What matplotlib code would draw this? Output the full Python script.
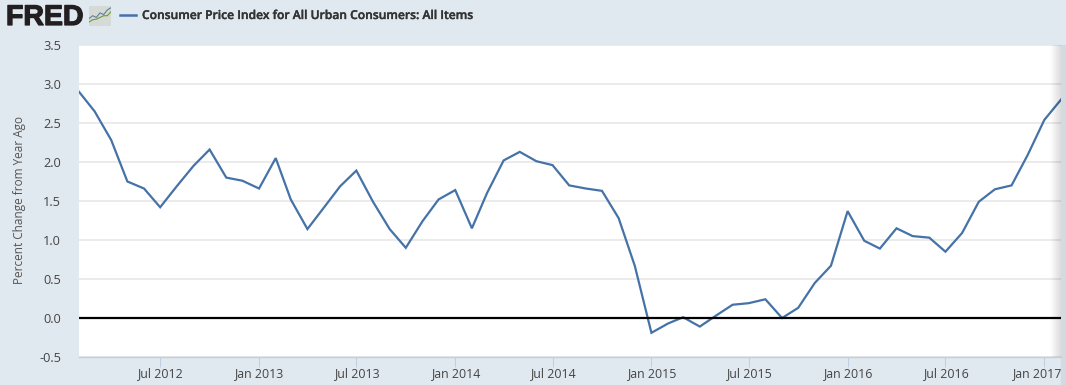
import numpy as np
import pandas as pd
import matplotlib
matplotlib.use('Agg')
import matplotlib.pyplot as plt
import matplotlib.dates as mdates
import matplotlib.patheffects as pe
from matplotlib.transforms import ScaledTranslation

plt.rcParams['font.family'] = ['Open Sans', 'DejaVu Sans']

months = pd.date_range('2012-02-01', '2017-02-01', freq='MS')
cpi_yoy = [2.90, 2.65, 2.28, 1.75, 1.66, 1.42, 1.69, 1.95, 2.16, 1.80, 1.76,
           1.66, 2.05, 1.52, 1.14, 1.41, 1.69, 1.89, 1.49, 1.14, 0.90, 1.24, 1.52,
           1.64, 1.15, 1.60, 2.02, 2.13, 2.01, 1.96, 1.70, 1.66, 1.63, 1.28, 0.67,
           -0.19, -0.07, 0.01, -0.11, 0.03, 0.17, 0.19, 0.24, 0.00, 0.13, 0.45, 0.67,
           1.37, 0.99, 0.89, 1.15, 1.05, 1.03, 0.85, 1.09, 1.49, 1.65, 1.70, 2.09,
           2.54, 2.80]
y_ticks = [-0.5, 0.0, 0.5, 1.0, 1.5, 2.0, 2.5, 3.0, 3.5]
x_ticks = ['2012-07-01', '2013-01-01', '2013-07-01', '2014-01-01', '2014-07-01',
           '2015-01-01', '2015-07-01', '2016-01-01', '2016-07-01', '2017-01-01']
title = 'Consumer Price Index for All Urban Consumers: All Items'

W, H = 1066, 385
bg = '#e1e9f0'
line_col = '#4572a7'
text_col = '#444444'

fig = plt.figure(figsize=(W / 100, H / 100), dpi=100, facecolor=bg)
fig.add_artist(plt.Rectangle((1061 / W, 0), 5 / W, 1 - 45 / H, transform=fig.transFigure, color='#d3dbe2', zorder=-1))
ax = fig.add_axes([79 / W, 1 - 357 / H, (1061 - 79) / W, (357 - 45) / H])

ax.plot(months, cpi_yoy, color=line_col, lw=1.6, zorder=3, solid_joinstyle='miter')
ax.axhline(0, color='black', lw=1.6, zorder=4)

ax.set_ylim(-0.5, 3.5)
ax.set_xlim(months[0], months[-1])
ax.set_yticks(y_ticks)
ax.set_yticklabels(['%.1f' % v for v in y_ticks])
ax.set_xticks(pd.to_datetime(x_ticks))
ax.xaxis.set_major_formatter(mdates.DateFormatter('%b %Y'))
ax.grid(axis='y', color='#e6e6e6', lw=1.1, zorder=0)
ax.set_axisbelow(True)

for s in ['top', 'left', 'right']:
    ax.spines[s].set_visible(False)
ax.spines['bottom'].set_color('#c0d0e0')
ax.spines['bottom'].set_linewidth(1.0)
ax.tick_params(axis='y', length=0, pad=13, labelsize=9.2, labelcolor=text_col)
ax.tick_params(axis='x', length=7, width=0.8, color='#c0d0e0', pad=0, labelsize=8.9, labelcolor=text_col)

# the last label is pushed left so it stays inside the chart
last = ax.get_xticklabels()[-1]
last.set_ha('right')
last.set_transform(last.get_transform() + ScaledTranslation(17 / 100, 0, fig.dpi_scale_trans))

fig.text(20 / W, 1 - 200 / H, 'Percent Change from Year Ago', fontsize=8.5, color='#555555',
         rotation=90, va='center', ha='center')

# fade on the right edge of the plot
shade = fig.add_axes([1050 / W, 1 - 357 / H, 11 / W, 312 / H])
shade.imshow(np.zeros((1, 32, 3)), aspect='auto', alpha=np.linspace(0, 0.14, 32).reshape(1, -1))
shade.axis('off')

# header
fig.text(6 / W, 1 - 18 / H, 'FRED', fontsize=20.5, fontweight='bold', family=['Liberation Sans', 'DejaVu Sans'],
         color='#231f20', va='center', ha='left',
         path_effects=[pe.withStroke(linewidth=0.9, foreground='#231f20')])
icon = fig.add_axes([89 / W, 1 - 26 / H, 22 / W, 20 / H], facecolor='#d5dad7')
icon.plot([0, 1, 2, 3, 4, 5, 6], [2.6, 3.6, 3, 4.6, 4, 5.6, 6.4], color='#5f7f98', lw=0.8)
icon.plot([0, 1, 2, 3, 4, 5, 6], [1.4, 2.2, 2.4, 3, 3.6, 3.6, 5], color='#6f9a35', lw=0.8)
icon.set_xlim(0, 6)
icon.set_ylim(0, 7)
icon.set_xticks([])
icon.set_yticks([])
for s in icon.spines.values():
    s.set_visible(False)

fig.add_artist(plt.Line2D([120 / W, 136 / W], [1 - 14.5 / H] * 2, color=line_col, lw=1.8))
fig.text(142 / W, 1 - 15.5 / H, title, fontsize=8.7, fontweight='semibold', color='#333333', va='center', ha='left',
         path_effects=[pe.withStroke(linewidth=0.25, foreground='#333333')])

fig.savefig('out.png', dpi=100, facecolor=bg)
